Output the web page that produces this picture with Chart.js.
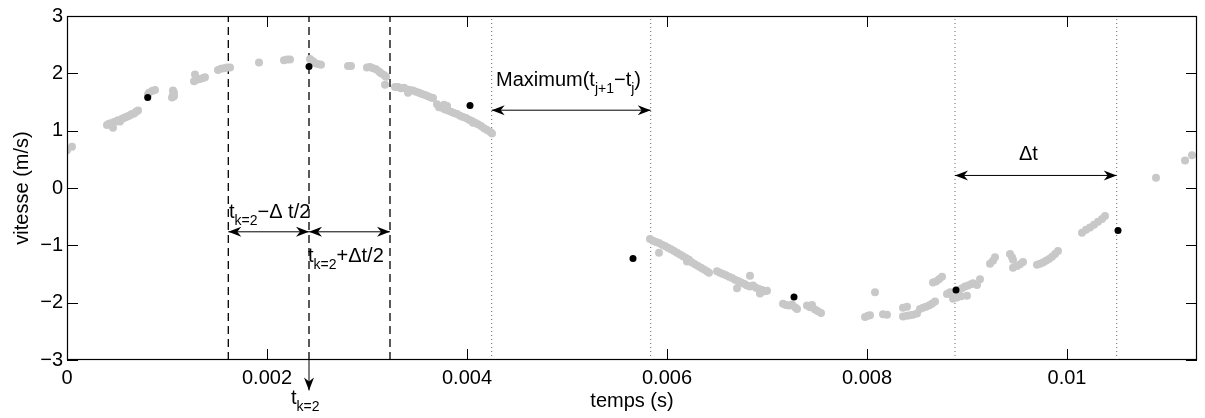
<!DOCTYPE html>
<html>
<head>
<meta charset="utf-8">
<title>vitesse / temps</title>
<script src="https://cdn.jsdelivr.net/npm/chart.js@4.4.1/dist/chart.umd.min.js"></script>
<style>
  html, body { margin: 0; padding: 0; background: #fff; }
  canvas { display: block; }
</style>
</head>
<body>
<canvas id="chart" width="1205" height="418"></canvas>
<script>
// Axis ticks
const timeTicks = [0, 0.002, 0.004, 0.006, 0.008, 0.01];
const speedTicks = [-3, -2, -1, 0, 1, 2, 3];

// Resampled points (black)
const sampleTime = [0.000807, 0.00242, 0.00403, 0.00566, 0.00727, 0.00889, 0.01051];
const sampleSpeed = [1.58, 2.12, 1.44, -1.23, -1.90, -1.78, -0.74];

// Measured points (gray), [t, v]
const graySamples = [
  [0.00000, 0.66], [0.00005, 0.72],
  [0.00040, 1.10], [0.00042, 1.12], [0.00044, 1.13], [0.00046, 1.05], [0.00047, 1.15], [0.00049, 1.16],
  [0.00051, 1.18], [0.00053, 1.16], [0.00055, 1.21], [0.00057, 1.22], [0.00059, 1.24], [0.00061, 1.25],
  [0.00063, 1.27], [0.00065, 1.29], [0.00067, 1.30], [0.00069, 1.33], [0.00071, 1.35],
  [0.00081, 1.63], [0.00082, 1.66], [0.00085, 1.69], [0.00088, 1.71],
  [0.00105, 1.58], [0.00106, 1.62], [0.00107, 1.66], [0.00106, 1.70], [0.00107, 1.60],
  [0.00128, 1.98], [0.00127, 1.86], [0.00130, 1.89], [0.00133, 1.90], [0.00136, 1.92], [0.00138, 1.93],
  [0.00151, 2.06], [0.00154, 2.08], [0.00157, 2.09], [0.00160, 2.10], [0.00163, 2.10],
  [0.00192, 2.19],
  [0.00217, 2.23], [0.00220, 2.24], [0.00223, 2.24],
  [0.00243, 2.25], [0.00246, 2.21], [0.00249, 2.17], [0.00252, 2.16], [0.00254, 2.15],
  [0.00281, 2.13], [0.00284, 2.13],
  [0.00300, 2.10], [0.00303, 2.11], [0.00306, 2.09], [0.00309, 2.07], [0.00312, 2.03], [0.00314, 2.00],
  [0.00317, 1.97], [0.00319, 1.94], [0.00318, 1.80],
  [0.00328, 1.76], [0.00331, 1.76], [0.00334, 1.74], [0.00337, 1.75], [0.00340, 1.72], [0.00341, 1.66],
  [0.00343, 1.71], [0.00346, 1.70], [0.00349, 1.68], [0.00352, 1.66], [0.00355, 1.64], [0.00358, 1.62],
  [0.00361, 1.60], [0.00364, 1.58], [0.00366, 1.57],
  [0.00370, 1.46], [0.00372, 1.41], [0.00375, 1.40], [0.00377, 1.45], [0.00380, 1.43], [0.00378, 1.37],
  [0.00381, 1.35], [0.00384, 1.33], [0.00387, 1.31], [0.00390, 1.29], [0.00393, 1.26], [0.00396, 1.24],
  [0.00399, 1.22], [0.00402, 1.19], [0.00405, 1.17], [0.00406, 1.14], [0.00408, 1.14], [0.00411, 1.11],
  [0.00414, 1.08], [0.00417, 1.04], [0.00420, 1.01], [0.00423, 0.98], [0.00425, 0.95],
  [0.00583, -0.89], [0.00586, -0.92], [0.00589, -0.94], [0.00592, -1.13], [0.00592, -0.96], [0.00595, -0.99],
  [0.00598, -1.01], [0.00601, -1.04], [0.00604, -1.07], [0.00607, -1.10], [0.00610, -1.13], [0.00613, -1.16],
  [0.00616, -1.19], [0.00619, -1.22], [0.00620, -1.28], [0.00622, -1.25], [0.00625, -1.30], [0.00628, -1.33],
  [0.00631, -1.36], [0.00634, -1.39], [0.00637, -1.42], [0.00640, -1.45], [0.00642, -1.48],
  [0.00650, -1.45], [0.00653, -1.48], [0.00656, -1.50], [0.00659, -1.52], [0.00662, -1.55], [0.00665, -1.57],
  [0.00668, -1.60], [0.00670, -1.75], [0.00671, -1.62], [0.00674, -1.65], [0.00677, -1.67], [0.00680, -1.70],
  [0.00683, -1.53], [0.00683, -1.72], [0.00686, -1.70], [0.00689, -1.74], [0.00692, -1.76], [0.00693, -1.84],
  [0.00695, -1.78], [0.00698, -1.80], [0.00700, -1.79],
  [0.00716, -2.02], [0.00719, -2.04], [0.00722, -2.05], [0.00725, -2.03], [0.00728, -2.08], [0.00730, -2.11],
  [0.00740, -2.05], [0.00743, -2.08], [0.00745, -2.04], [0.00748, -2.12], [0.00751, -2.15], [0.00754, -2.18],
  [0.00798, -2.25], [0.00801, -2.23], [0.00803, -2.22], [0.00808, -1.82], [0.00816, -2.20], [0.00820, -2.21],
  [0.00836, -2.09], [0.00840, -2.07], [0.00836, -2.24], [0.00840, -2.23], [0.00843, -2.22], [0.00846, -2.21],
  [0.00850, -2.19],
  [0.00853, -2.11], [0.00856, -2.09], [0.00859, -2.07], [0.00862, -2.05], [0.00865, -2.02], [0.00868, -1.98],
  [0.00866, -1.65], [0.00869, -1.63], [0.00872, -1.59], [0.00875, -1.55],
  [0.00880, -1.85], [0.00883, -1.82], [0.00886, -1.93], [0.00889, -1.80], [0.00890, -1.91], [0.00892, -1.78],
  [0.00894, -1.89], [0.00895, -1.75], [0.00898, -1.72], [0.00900, -1.88], [0.00901, -1.70], [0.00904, -1.68],
  [0.00906, -1.66],
  [0.00910, -1.69], [0.00913, -1.59],
  [0.00923, -1.32], [0.00926, -1.27], [0.00928, -1.21],
  [0.00943, -1.15], [0.00945, -1.21], [0.00946, -1.25], [0.00946, -1.39], [0.00950, -1.36], [0.00953, -1.33],
  [0.00956, -1.29],
  [0.00970, -1.34], [0.00973, -1.32], [0.00976, -1.30], [0.00979, -1.27], [0.00982, -1.24], [0.00985, -1.20],
  [0.00988, -1.15], [0.00991, -1.10],
  [0.01015, -0.78], [0.01019, -0.73], [0.01023, -0.69], [0.01027, -0.64], [0.01031, -0.59], [0.01035, -0.54],
  [0.01038, -0.49],
  [0.01089, 0.18], [0.01118, 0.48], [0.01125, 0.57]
];

// Window bounds (dashed) and gap bounds (dotted)
const windowLines = [0.001613, 0.00242, 0.00323];
const gapLines = [0.004247, 0.005837, 0.00888, 0.010497];

const FONT = '"Liberation Sans", Arial, Helvetica, sans-serif';
Chart.defaults.font.family = FONT;
Chart.defaults.color = '#000';

function vline(t, dash, color, width) {
    return {
        type: 'line',
        data: [{x: t, y: -3}, {x: t, y: 3}],
        borderColor: color,
        borderWidth: width,
        borderDash: dash,
        pointRadius: 0,
        order: 2
    };
}

// arrow head with its tip at (x, y), pointing along angle a
function arrowHead(ctx, x, y, a) {
    ctx.save();
    ctx.translate(x, y);
    ctx.rotate(a);
    ctx.beginPath();
    ctx.moveTo(0, 0);
    ctx.lineTo(-13, -5);
    ctx.lineTo(-9, 0);
    ctx.lineTo(-13, 5);
    ctx.closePath();
    ctx.fill();
    ctx.restore();
}

function arrow(ctx, x1, y1, x2, y2, both) {
    ctx.beginPath();
    ctx.moveTo(x1, y1);
    ctx.lineTo(x2, y2);
    ctx.stroke();
    const a = Math.atan2(y2 - y1, x2 - x1);
    arrowHead(ctx, x2, y2, a);
    if (both) arrowHead(ctx, x1, y1, a + Math.PI);
}

// text with subscripts: parts = [[text, isSub], ...]
function richText(ctx, parts, x, y) {
    parts.forEach(function (p) {
        ctx.font = (p[1] ? 14 : 20) + 'px ' + FONT;
        ctx.fillText(p[0], x, y + (p[1] ? 7 : 0));
        x += ctx.measureText(p[0]).width;
    });
}

const overlay = {
    id: 'overlay',
    afterDraw(chart) {
        const ctx = chart.ctx;
        const a = chart.chartArea;
        const x = chart.scales.x, y = chart.scales.y;
        const px = v => x.getPixelForValue(v);
        const py = v => y.getPixelForValue(v);
        ctx.save();

        // Box and inward ticks
        ctx.strokeStyle = '#000';
        ctx.lineWidth = 1.2;
        ctx.strokeRect(a.left + 0.5, a.top + 0.5, a.width - 1, a.height - 1);
        ctx.lineWidth = 1;
        ctx.beginPath();
        x.ticks.forEach(function (t) {
            const p = Math.round(px(t.value)) + 0.5;
            ctx.moveTo(p, a.bottom); ctx.lineTo(p, a.bottom - 11);
            ctx.moveTo(p, a.top); ctx.lineTo(p, a.top + 11);
        });
        y.ticks.forEach(function (t) {
            const p = Math.round(py(t.value)) + 0.5;
            ctx.moveTo(a.left, p); ctx.lineTo(a.left + 11, p);
            ctx.moveTo(a.right, p); ctx.lineTo(a.right - 11, p);
        });
        ctx.stroke();

        // Arrows
        ctx.fillStyle = '#000';
        arrow(ctx, px(gapLines[0]), py(1.357), px(gapLines[1]), py(1.357), true);
        arrow(ctx, px(gapLines[2]), py(0.219), px(gapLines[3]), py(0.219), true);
        arrow(ctx, px(windowLines[0]), py(-0.764), px(windowLines[1]), py(-0.764), true);
        arrow(ctx, px(windowLines[1]), py(-0.764), px(windowLines[2]), py(-0.764), true);
        arrow(ctx, px(windowLines[1]), py(-3), px(windowLines[1]), py(-3.53), false);

        // Labels
        ctx.textAlign = 'left';
        ctx.textBaseline = 'alphabetic';
        richText(ctx, [['Maximum(t'], ['j+1', 1], ['\u2212t'], ['j', 1], [')']], px(0.00429), py(1.776));
        richText(ctx, [['\u0394t']], px(0.00952), py(0.483));
        richText(ctx, [['t'], ['k=2', 1], ['\u2212\u0394 t/2']], px(0.00162), py(-0.517));
        richText(ctx, [['t'], ['k=2', 1], ['+\u0394t/2']], px(0.00241), py(-1.293));
        richText(ctx, [['t'], ['k=2', 1]], px(0.00224), py(-3.759));

        // Axis titles
        ctx.font = '20px ' + FONT;
        ctx.textAlign = 'center';
        ctx.fillText('temps (s)', (a.left + a.right) / 2, 407);
        ctx.translate(28, (a.top + a.bottom) / 2);
        ctx.rotate(-Math.PI / 2);
        ctx.fillText('vitesse (m/s)', 0, 0);

        ctx.restore();
    }
};

const datasets = [{
    label: 'samples',
    data: sampleTime.map((t, i) => ({x: t, y: sampleSpeed[i]})),
    backgroundColor: '#000',
    borderWidth: 0,
    pointRadius: 3.5,
    order: 0
}, {
    label: 'measures',
    data: graySamples.map(p => ({x: p[0], y: p[1]})),
    backgroundColor: 'rgb(200,200,200)',
    borderWidth: 0,
    pointRadius: 4,
    order: 1
}].concat(
    windowLines.map(t => vline(t, [8, 5], '#000', 1.3)),
    gapLines.map(t => vline(t, [1, 3], '#666', 1))
);

function fmt(v) {
    const s = String(parseFloat(v.toFixed(4)));
    return s.replace('-', '\u2212');
}

new Chart(document.getElementById('chart'), {
    type: 'scatter',
    data: {datasets: datasets},
    options: {
        responsive: false,
        animation: false,
        layout: {padding: {left: 0, right: 8, top: 12, bottom: 0}},
        plugins: {legend: {display: false}, tooltip: {enabled: false}},
        scales: {
            x: {
                type: 'linear',
                min: 0,
                max: 0.0113,
                grid: {display: false, drawTicks: false},
                border: {display: false},
                afterBuildTicks: s => { s.ticks = timeTicks.map(v => ({value: v})); },
                afterFit: s => { s.height = 58; },
                ticks: {
                    font: {size: 20},
                    padding: 6,
                    maxRotation: 0,
                    autoSkip: false,
                    callback: v => fmt(v)
                }
            },
            y: {
                min: -3,
                max: 3,
                grid: {display: false, drawTicks: false},
                border: {display: false},
                afterBuildTicks: s => { s.ticks = speedTicks.map(v => ({value: v})); },
                afterFit: s => { s.width = 67; },
                ticks: {
                    font: {size: 20},
                    padding: 4,
                    autoSkip: false,
                    callback: v => fmt(v)
                }
            }
        }
    },
    plugins: [overlay]
});
</script>
</body>
</html>
